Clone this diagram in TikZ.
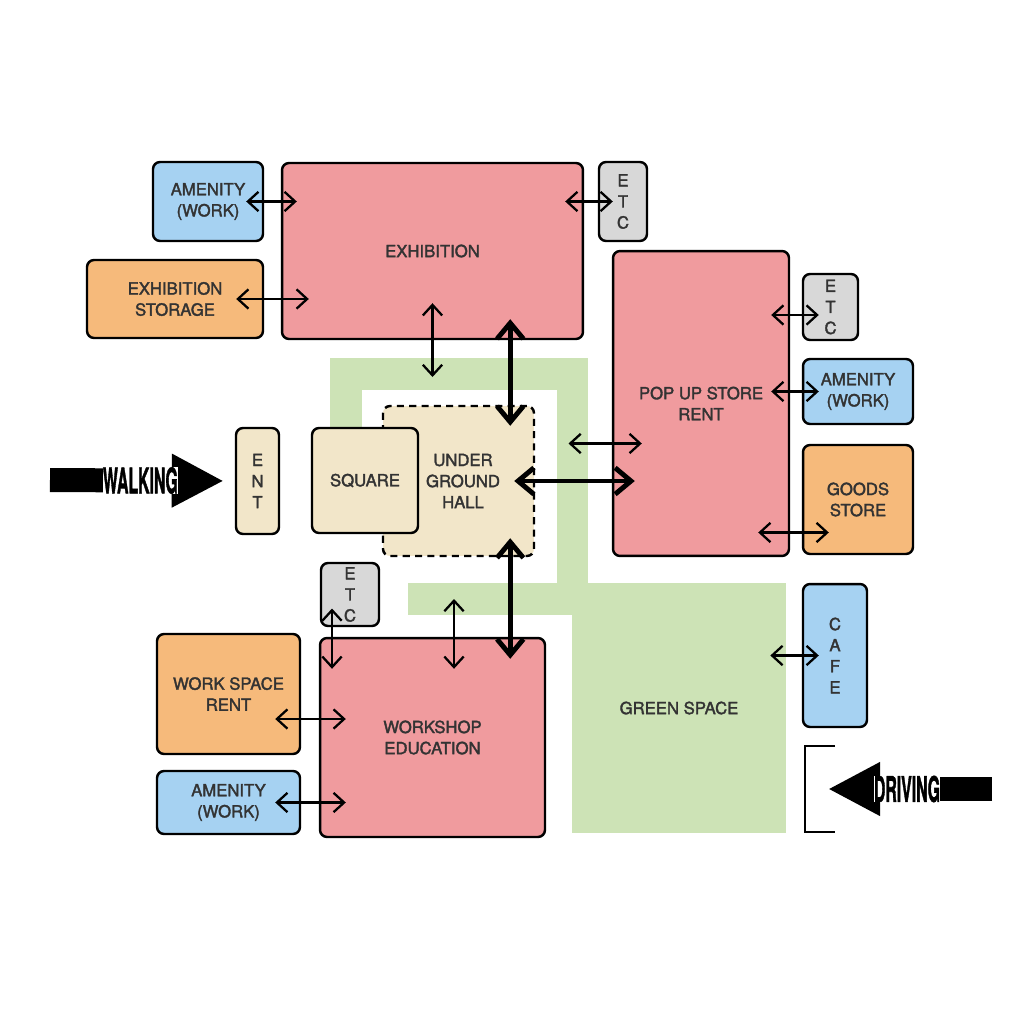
\documentclass[tikz,border=0pt]{standalone}
\usepackage{fontspec}
\setmainfont{TeX Gyre Heros}
\newfontfamily\labelfont{TeX Gyre Heros}[RawFeature={embolden=2}]
\usepackage{graphicx}
\usetikzlibrary{arrows.meta, calc}

\definecolor{roompink}{HTML}{F09B9E}
\definecolor{amenblue}{HTML}{A6D2F2}
\definecolor{servorange}{HTML}{F6BA7B}
\definecolor{etcgray}{HTML}{D8D8D8}
\definecolor{entcream}{HTML}{F2E6C9}
\definecolor{parkgreen}{HTML}{CDE3B6}
\definecolor{labeltxt}{HTML}{333333}

\begin{document}
\begin{tikzpicture}[x=0.02cm, y=-0.02cm, font=\labelfont\fontsize{9.5}{12}\selectfont,
  base/.style={rectangle, rounded corners=4pt, draw=black, line width=1.4pt, align=center, text=labeltxt, inner sep=1pt},
  room/.style={base, fill=roompink},
  amenity/.style={base, fill=amenblue},
  service/.style={base, fill=servorange},
  etcbox/.style={base, fill=etcgray},
  entry/.style={base, fill=entcream},
  band/.style={rectangle, fill=parkgreen, draw=none, inner sep=0pt, text=labeltxt},
  link/.style={{Straight Barb[length=6pt,width=11pt]}-{Straight Barb[length=6pt,width=11pt]}, line width=1.3pt},
  mainlink/.style={{Straight Barb[length=9pt,width=15pt]}-{Straight Barb[length=9pt,width=15pt]}, line width=2.8pt},
  bigarrow/.style={line width=0.48cm, -{Triangle[length=1.04cm,width=1cm]}},
  bigword/.style={fill=white, inner sep=0pt, text=black, font=\labelfont\bfseries\fontsize{20}{20}\selectfont}]

\useasboundingbox (0,0) rectangle (1024,1024);

% green paths and park
\node[band, minimum width=5.16cm, minimum height=0.64cm] (gTop) at (459,374) {};
\node[band, minimum width=0.64cm, minimum height=2.24cm] (gLeft) at (346,414) {};
\node[band, minimum width=0.62cm, minimum height=5.14cm] (gRight) at (572.5,486.5) {};
\node[band, minimum width=3.6cm, minimum height=0.64cm] (gBottom) at (498,599) {};
\node[band, minimum width=4.28cm, minimum height=5cm] (green) at (679,708) {GREEN SPACE};

% rooms
\node[amenity, minimum width=2.2cm, minimum height=1.58cm] (amenTop) at (208,201.5) {AMENITY\\(WORK)};
\node[service, minimum width=3.52cm, minimum height=1.56cm] (storage) at (175,299) {EXHIBITION\\STORAGE};
\node[room, minimum width=6.02cm, minimum height=3.52cm] (exhib) at (432.5,251) {EXHIBITION};
\node[etcbox, minimum width=0.96cm, minimum height=1.58cm] (etcTop) at (623,201.5) {E\\T\\C};
\node[room, minimum width=3.52cm, minimum height=6.1cm] (popup) at (701,403.5) {POP UP STORE\\RENT};
\node[etcbox, minimum width=1.1cm, minimum height=1.32cm] (etcRight) at (830.5,307) {E\\T\\C};
\node[amenity, minimum width=2.2cm, minimum height=1.3cm] (amenRight) at (858,391.5) {AMENITY\\(WORK)};
\node[service, minimum width=2.2cm, minimum height=2.18cm] (goods) at (858,499.5) {GOODS\\STORE};
\node[entry, minimum width=0.86cm, minimum height=2.12cm] (ent) at (257.5,481) {E\\N\\T};
\node[entry, dash pattern=on 4pt off 3pt, minimum width=3.02cm, minimum height=3cm, text width=2.6cm, xshift=0.08cm] (hall) at (454.5,481) {\hspace*{0.18cm}UNDER\\\hspace*{0.18cm}GROUND\\\hspace*{0.18cm}HALL};
\node[entry, minimum width=2.12cm, minimum height=2.1cm] (square) at (365,480.5) {SQUARE};
\node[etcbox, minimum width=1.16cm, minimum height=1.26cm] (etcLow) at (350,594.5) {E\\T\\C};
\node[service, minimum width=2.86cm, minimum height=2.4cm] (wsrent) at (228.5,694) {WORK SPACE\\RENT};
\node[amenity, minimum width=2.86cm, minimum height=1.26cm] (amenLow) at (228.5,802.5) {AMENITY\\(WORK)};
\node[room, minimum width=4.5cm, minimum height=3.98cm] (workshop) at (432.5,737.5) {WORKSHOP\\EDUCATION};
\node[amenity, minimum width=1.28cm, minimum height=2.86cm] (cafe) at (835,655.5) {C\\A\\F\\E};

% links
\draw[link] ($(amenTop.east)+(-18,0)$) -- ($(amenTop.east -| exhib.west)+(16,0)$);
\draw[link] ($(storage.east)+(-28,0)$) -- ($(storage.east -| exhib.west)+(28,0)$);
\draw[link] ($(etcTop.west -| exhib.east)+(-19,0)$) -- ($(etcTop.west)+(15,0)$);
\draw[link] ($(exhib.south)+(0,-37)$) -- ($(exhib.south |- gTop.center)+(0,3)$);
\draw[link] ($(gRight.center)+(-4,-43)$) -- ($(gRight.center -| popup.west)+(30,-43)$);
\draw[link] ($(gBottom.center)+(-44,0)$) -- ($(gBottom.center |- workshop.north)+(-44,32)$);
\draw[link] ($(etcLow.center)+(-18,14)$) -- ($(etcLow.center |- workshop.north)+(-18,32)$);
\draw[link] ($(wsrent.east)+(-26,25)$) -- ($(wsrent.east -| workshop.west)+(27,25)$);
\draw[link] ($(amenLow.east)+(-26,0)$) -- ($(amenLow.east -| workshop.west)+(27,0)$);
\draw[link] ($(etcRight.west -| popup.east)+(-19,8)$) -- ($(etcRight.west)+(17,8)$);
\draw[link] ($(amenRight.west -| popup.east)+(-19,0)$) -- ($(amenRight.west)+(17,0)$);
\draw[link] ($(goods.west -| popup.east)+(-32,33)$) -- ($(goods.west)+(27,33)$);
\draw[link] ($(cafe.west -| green.east)+(-16,0)$) -- ($(cafe.west)+(17,0)$);

% main links of the hall
\draw[mainlink] ($(hall.north east |- exhib.south)+(-25,-21)$) -- ($(hall.north east)+(-25,21)$);
\draw[mainlink] ($(hall.east)+(-21,0)$) -- ($(hall.east -| popup.west)+(23,0)$);
\draw[mainlink] ($(hall.south east)+(-25,-19)$) -- ($(hall.south east |- workshop.north)+(-25,22)$);

% access
\coordinate (walkstart) at (50,480);
\draw[bigarrow, shorten >=0.22cm] (walkstart) -- (ent.west) node[bigword, midway, xshift=-0.04cm] (walk) {\scalebox{0.45}[1]{WALKING}};
\coordinate (drivestart) at (992,789);
\coordinate (driveend) at (828,789);
\draw[bigarrow] (drivestart) -- (driveend) node[bigword, midway, xshift=-0.06cm] (drive) {\scalebox{0.45}[1]{DRIVING}};
\draw[line width=1.4pt] (835,746) -| (805,832) -- (835,832);
\end{tikzpicture}
\end{document}
